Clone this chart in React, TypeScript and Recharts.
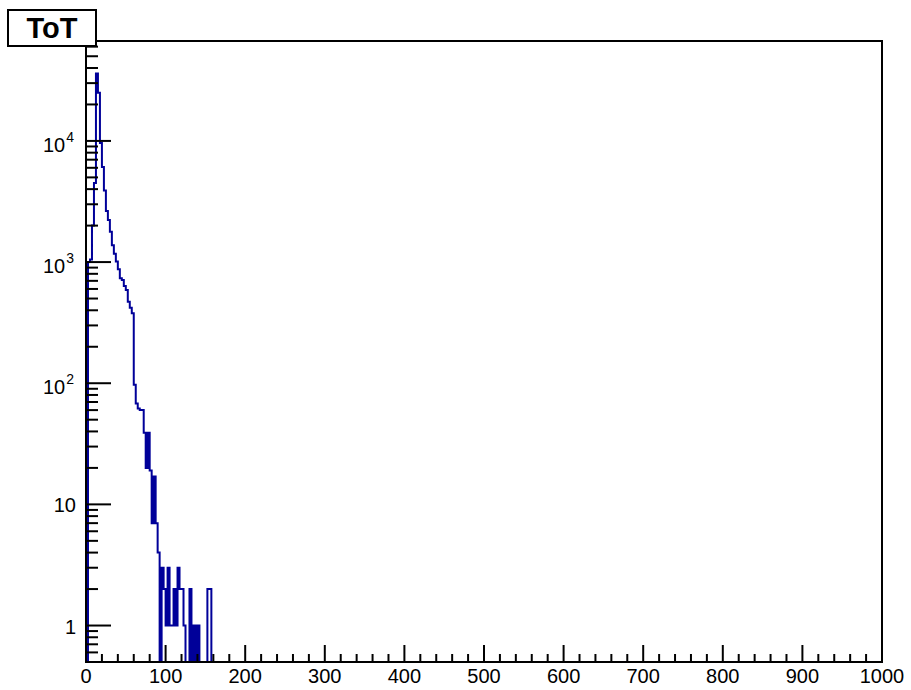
import React from 'react';
import { ComposedChart, Line, XAxis, YAxis, ReferenceArea } from 'recharts';

// Histogram "ToT": 400 bins of width 2.5 on [0, 1000]
const BIN_WIDTH = 2.5;
const N_BINS = 400;
const X_DOMAIN = [0, 1000];
const Y_MIN = 0.5;
const Y_MAX = 66800;

// counts of the first bins (bin low edge = index * 2.5); all later bins are empty
const counts = [
  0, 1000, 1050, 2000, 4500, 36000, 25000, 9600, 6100, 3900,
  2640, 2220, 1780, 1380, 1170, 1010, 872, 735, 711, 635,
  589, 471, 420, 378, 97, 68, 62, 60, 60, 39,
  20, 39, 19, 7, 17, 7, 4, 0, 3, 2,
  1, 3, 1, 1, 2, 1, 3, 2, 2, 1,
  0, 0, 2, 0, 1, 0, 1, 0, 0, 0,
  0, 2, 2, 0,
];

const xTicks = [
  0, 20, 40, 60, 80, 100, 120, 140, 160, 180, 200, 220, 240, 260, 280, 300, 320, 340, 360, 380,
  400, 420, 440, 460, 480, 500, 520, 540, 560, 580, 600, 620, 640, 660, 680, 700, 720, 740, 760, 780,
  800, 820, 840, 860, 880, 900, 920, 940, 960, 980, 1000,
];
const xLabels = [0, 100, 200, 300, 400, 500, 600, 700, 800, 900, 1000];

const yTicks = [
  0.6, 0.7, 0.8, 0.9,
  1, 2, 3, 4, 5, 6, 7, 8, 9,
  10, 20, 30, 40, 50, 60, 70, 80, 90,
  100, 200, 300, 400, 500, 600, 700, 800, 900,
  1000, 2000, 3000, 4000, 5000, 6000, 7000, 8000, 9000,
  10000, 20000, 30000, 40000, 50000, 60000,
];
const yMajor = [1, 10, 100, 1000, 10000];

const LOG_MIN = Math.log10(Y_MIN);
const LOG_MAX = Math.log10(Y_MAX);

const table = Array.from({ length: N_BINS + 1 }, (_, i) => {
  const c = i < N_BINS ? counts[i] ?? 0 : counts[N_BINS - 1] ?? 0;
  return { x: i * BIN_WIDTH, y: c > 0 ? Math.log10(c) : LOG_MIN };
});

const FONT = '"Liberation Sans", Arial, Helvetica, sans-serif';

const YTick = (props: any) => {
  const { x, y, payload } = props;
  const v = payload.value as number;
  const e = Math.round(v);
  const isMajor = Math.abs(v - e) < 1e-6 && yMajor.includes(Math.pow(10, e));
  const len = isMajor ? 25 : 12;
  return (
    <g>
      <line x1={x} y1={y} x2={x + len} y2={y} stroke="#000" strokeWidth={2} />
      {isMajor && (e <= 1 ? (
        <text x={x - 10} y={y + 8} textAnchor="end" fontFamily={FONT} fontSize={20} fill="#000">
          {e === 0 ? '1' : '10'}
        </text>
      ) : (
        <text x={x - 12} y={y + 11} textAnchor="end" fontFamily={FONT} fontSize={20} fill="#000">
          10
          <tspan dx={1} dy={-10} fontSize={14}>{String(e)}</tspan>
        </text>
      ))}
    </g>
  );
};

const XTick = (props: any) => {
  const { x, y, payload } = props;
  const v = payload.value as number;
  const isMajor = xLabels.includes(v);
  const len = isMajor ? 17 : 8;
  return (
    <g>
      <line x1={x} y1={y} x2={x} y2={y - len} stroke="#000" strokeWidth={2} />
      {isMajor && (
        <text x={x} y={y + 21} textAnchor="middle" fontFamily={FONT} fontSize={20} fill="#000">
          {String(v)}
        </text>
      )}
    </g>
  );
};

export default function App() {
  return (
    <div style={{ position: 'absolute', left: 0, top: 0, width: 911, height: 690, background: '#fff' }}>
      <ComposedChart
        width={911}
        height={690}
        data={table}
        margin={{ top: 41, right: 29, bottom: 0, left: 0 }}
      >
        <XAxis
          dataKey="x"
          type="number"
          domain={X_DOMAIN}
          ticks={xTicks}
          interval={0}
          height={28}
          tickSize={0}
          tickMargin={0}
          tick={<XTick />}
          axisLine={{ stroke: '#000', strokeWidth: 2 }}
          tickLine={false}
        />
        <YAxis
          type="number"
          domain={[LOG_MIN, LOG_MAX]}
          ticks={yTicks.map((t) => Math.log10(t))}
          interval={0}
          width={86}
          tickSize={0}
          tickMargin={0}
          tick={<YTick />}
          axisLine={{ stroke: '#000', strokeWidth: 2 }}
          tickLine={false}
        />
        <ReferenceArea
          x1={X_DOMAIN[0]}
          x2={X_DOMAIN[1]}
          y1={LOG_MIN}
          y2={LOG_MAX}
          fill="none"
          stroke="#000"
          strokeWidth={2}
        />
        <Line
          dataKey="y"
          type="stepAfter"
          stroke="#000099"
          strokeWidth={2}
          dot={false}
          activeDot={false}
          isAnimationActive={false}
        />
      </ComposedChart>
      <div
        style={{
          position: 'absolute',
          left: 7,
          top: 9,
          width: 90,
          height: 38,
          boxSizing: 'border-box',
          border: '2px solid #000',
          background: '#fff',
          display: 'flex',
          alignItems: 'center',
          justifyContent: 'center',
          fontFamily: FONT,
          fontWeight: 'bold',
          fontSize: 29,
          color: '#000',
        }}
      >
        ToT
      </div>
    </div>
  );
}
